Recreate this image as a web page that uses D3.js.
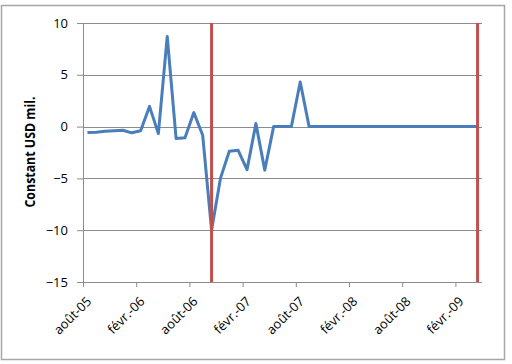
<!DOCTYPE html>
<html>
<head>
<meta charset="utf-8">
<script src="https://cdn.jsdelivr.net/npm/d3@7"></script>
<style>
  body { margin: 0; background: #fff; }
  svg { display: block; }
</style>
</head>
<body>
<div id="chart"></div>
<script>
// monthly values, août-05 .. avr.-09
var months = d3.range(45).map(function(i){ return new Date(2005, 7 + i, 1) })
var values = [
  -0.58, -0.55, -0.45, -0.4, -0.35, -0.6, -0.4, 1.95, -0.68, 8.7,
  -1.15, -1.07, 1.35, -0.84, -10.0, -5.0, -2.38, -2.29, -4.15, 0.29,
  -4.2, 0, 0, 0, 4.3, 0, 0, 0, 0, 0,
  0, 0, 0, 0, 0, 0, 0, 0, 0, 0,
  0, 0, 0, 0, 0
]
var tickLabels = ['août-05', 'févr.-06', 'août-06', 'févr.-07', 'août-07', 'févr.-08', 'août-08', 'févr.-09']
var yTicks = [-15, -10, -5, 0, 5, 10]
// vertical markers (month index)
var markers = [14, 44]

var W = 512, H = 364
var margin = {top: 23, left: 83}
var width = 482 - margin.left
var height = 282 - margin.top
var font = '"Open Sans", Lato, sans-serif'

var svg = d3.select('#chart').append('svg')
  .attr('width', W)
  .attr('height', H)

svg.append('rect')
  .attr('x', 1.5).attr('y', 5.5)
  .attr('width', 503).attr('height', 354)
  .attr('fill', '#fff')
  .attr('stroke', '#a6a6a6')
  .attr('stroke-width', 1.5)

var g = svg.append('g')
  .attr('transform', 'translate(' + margin.left + ',' + margin.top + ')')

// category axis, points between tick marks
var x = d3.scaleBand()
  .domain(d3.range(months.length))
  .range([0, width])
var xt = d3.scaleLinear()
  .domain([0, months.length])
  .range([0, width])
var y = d3.scaleLinear()
  .domain([-15, 10])
  .range([height, 0])

var cx = function(i){ return x(i) + x.bandwidth() / 2 }

// gridlines
g.selectAll('.grid')
  .data(yTicks)
  .enter().append('line')
    .attr('class', 'grid')
    .attr('x1', 0).attr('x2', width)
    .attr('y1', function(d){ return Math.round(y(d)) + 0.5 })
    .attr('y2', function(d){ return Math.round(y(d)) + 0.5 })
    .attr('stroke', '#8c8c8c')
    .attr('stroke-width', 1)

var yAxis = d3.axisLeft(y)
  .tickValues(yTicks)
  .tickSize(6)
  .tickPadding(9)
g.append('g')
  .attr('class', 'axis axis--y')
  .call(yAxis)

// x axis: tick every 6 months, labels drawn separately
var tickIdx = d3.range(0, months.length, 6)
var xAxis = d3.axisBottom(xt)
  .tickValues(tickIdx)
  .tickSize(5)
  .tickFormat('')
g.append('g')
  .attr('class', 'axis axis--x')
  .attr('transform', 'translate(0,' + height + ')')
  .call(xAxis)

g.selectAll('.domain')
  .attr('stroke', '#8c8c8c')
g.selectAll('.tick line')
  .attr('stroke', '#8c8c8c')
g.selectAll('.axis--y .tick text')
  .attr('fill', '#000')
  .style('font-family', font)
  .style('font-size', '13px')
g.select('.axis--y').select('.domain').attr('d', 'M0.5,0V' + height)
g.select('.axis--x').select('.domain').attr('d', 'M0,0.5H' + width)

// rotated labels: outer group places, inner group rotates
var lab = g.selectAll('.xlabel')
  .data(tickIdx)
  .enter().append('g')
    .attr('class', 'xlabel')
    .attr('transform', function(d){ return 'translate(' + (xt(d) + 6) + ',' + (height + 17) + ')' })
lab.append('g')
    .attr('transform', 'rotate(-45)')
  .append('text')
    .attr('x', 0).attr('y', 0)
    .attr('text-anchor', 'end')
    .attr('dy', '0.35em')
    .style('font-family', font)
    .style('font-size', '13px')
    .text(function(d, i){ return tickLabels[i] })

// line
var line = d3.line()
  .x(function(d, i){ return cx(i) })
  .y(function(d){ return y(d) })
g.append('path')
  .datum(values)
  .attr('fill', 'none')
  .attr('stroke', '#4a7ebb')
  .attr('stroke-width', 3)
  .attr('stroke-linejoin', 'round')
  .attr('d', line)

// red markers
g.selectAll('.marker')
  .data(markers)
  .enter().append('line')
    .attr('class', 'marker')
    .attr('x1', function(d){ return cx(d) })
    .attr('x2', function(d){ return cx(d) })
    .attr('y1', 0).attr('y2', height)
    .attr('stroke', '#c0504d')
    .attr('stroke-width', 3)

svg.append('text')
  .attr('transform', 'translate(35,' + 152 + ') rotate(-90)')
  .attr('text-anchor', 'middle')
  .attr('textLength', 111)
  .attr('lengthAdjust', 'spacingAndGlyphs')
  .style('font-family', font)
  .style('font-weight', 'bold')
  .style('font-size', '13.5px')
  .text('Constant USD mil.')
</script>
</body>
</html>
